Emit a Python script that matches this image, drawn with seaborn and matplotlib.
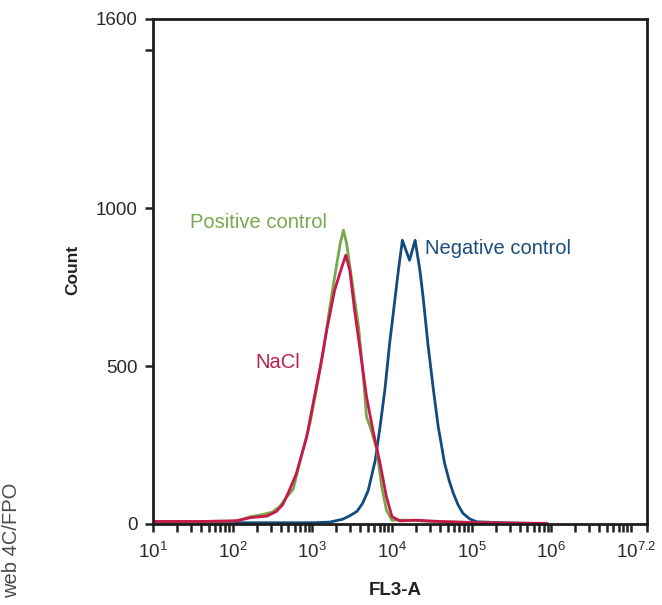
import numpy as np
import pandas as pd
import matplotlib
matplotlib.use("Agg")
import matplotlib.pyplot as plt
import matplotlib.ticker as mticker
import matplotlib.transforms as mtransforms
import seaborn as sns

# FL3-A values stored as log10 exponents, counts
neg_log = [1.0, 2.0, 3.0, 3.22, 3.38, 3.47, 3.56, 3.63, 3.70, 3.79, 3.85, 3.91, 3.97,
           4.04, 4.08, 4.13, 4.22, 4.29, 4.35, 4.39, 4.45, 4.52, 4.58, 4.66, 4.72,
           4.77, 4.83, 4.89, 4.97, 5.06, 5.5, 5.95]
neg_count = [4, 4, 4, 6, 15, 26, 40, 65, 105, 202, 308, 424, 571,
             719, 803, 898, 835, 898, 803, 719, 571, 424, 308, 192, 135,
             97, 60, 34, 17, 7, 3, 1]

pos_log = [1.0, 1.6, 2.0, 2.1, 2.22, 2.38, 2.5, 2.59, 2.68, 2.76, 2.84, 2.97, 3.05, 3.14,
           3.22, 3.28, 3.35, 3.39, 3.43, 3.49, 3.58, 3.64, 3.68, 3.74, 3.81, 3.87, 3.93,
           4.0, 4.2, 4.5, 4.9, 5.4, 5.95]
pos_count = [8, 8, 9, 13, 23, 30, 38, 55, 86, 110, 193, 319, 424, 550,
             687, 782, 888, 930, 888, 782, 624, 466, 339, 297, 234, 118, 44,
             12, 12, 8, 5, 3, 1]

nacl_log = [1.0, 1.6, 2.05, 2.22, 2.43, 2.55, 2.63, 2.70, 2.80, 2.93, 3.01, 3.10, 3.18,
            3.28, 3.37, 3.42, 3.47, 3.53, 3.60, 3.68, 3.76, 3.85, 3.93, 4.0, 4.1, 4.3,
            4.6, 5.0, 5.5, 5.94]
nacl_count = [8, 8, 10, 20, 25, 40, 62, 100, 160, 276, 382, 497, 613,
              740, 813, 851, 803, 677, 550, 403, 297, 192, 86, 23, 10, 12,
              8, 5, 3, 2]

groups = ["Negative control", "Positive control", "NaCl"]
colors = ["#114b80", "#74a84a", "#c8184b"]
xtick_exp = [1, 2, 3, 4, 5, 6, 7.2]
xtick_labels = [r"$10^{1}$", r"$10^{2}$", r"$10^{3}$", r"$10^{4}$",
                r"$10^{5}$", r"$10^{6}$", r"$10^{7.2}$"]

df = pd.concat([
    pd.DataFrame({"FL3-A": 10 ** np.array(lg), "Count": ct, "sample": name})
    for name, lg, ct in zip(groups, [neg_log, pos_log, nacl_log],
                            [neg_count, pos_count, nacl_count])
])

sns.set_theme(style="white")
plt.rcParams["font.family"] = ["Liberation Sans", "DejaVu Sans"]
plt.rcParams["mathtext.fontset"] = "custom"
plt.rcParams["mathtext.rm"] = "Liberation Sans"
plt.rcParams["mathtext.it"] = "Liberation Sans"

fig = plt.figure(figsize=(6.62, 6.05), dpi=100)
ax = fig.add_axes([0.2311, 0.1339, 0.7462, 0.8355])

sns.lineplot(data=df, x="FL3-A", y="Count", hue="sample", hue_order=groups,
             palette=colors, estimator=None, sort=False, linewidth=2.0,
             legend=False, ax=ax)

ax.set_xscale("log")
ax.set_xlim(10, 10 ** 7.2)
ax.set_ylim(0, 1600)

ax.set_xticks([10 ** e for e in xtick_exp])
ax.set_xticklabels(xtick_labels)
ax.xaxis.set_minor_locator(mticker.LogLocator(base=10, subs=np.arange(2, 11), numticks=20))
ax.xaxis.set_minor_formatter(mticker.NullFormatter())
ax.set_yticks([0, 500, 1000, 1600])
ax.set_yticks([1500], minor=True)

ax.tick_params(axis="both", which="both", direction="out", length=6, width=1.8,
               color="#222222", labelsize=13.5, labelcolor="#2a2a2a")
ax.tick_params(axis="x", which="both", pad=7, bottom=True)
ax.tick_params(axis="y", which="both", pad=5, left=True)

# last label sits a bit to the left so it stays inside the figure
last = ax.get_xticklabels()[-1]
last.set_transform(last.get_transform() +
                   mtransforms.ScaledTranslation(-11 / 100, 0, fig.dpi_scale_trans))

for sp in ax.spines.values():
    sp.set_linewidth(2.0)
    sp.set_color("#1e1e1e")

ax.set_xlabel("FL3-A", fontsize=13.5, fontweight="bold", color="#222222")
ax.set_ylabel("Count", fontsize=12.5, fontweight="bold", color="#222222")
ax.xaxis.set_label_coords(0.49, -0.114)
ax.yaxis.set_label_coords(-0.148, 0.502)

ax.text(10 ** 1.46, 955, "Positive control", color="#78a94e", fontsize=14.5, va="center")
ax.text(10 ** 2.28, 512, "NaCl", color="#b8204f", fontsize=14.5, va="center")
ax.text(10 ** 4.41, 873, "Negative control", color="#1b4e7f", fontsize=14.5, va="center")

fig.text(12 / 662, 1 - 540 / 605, "web 4C/FPO", rotation=90, fontsize=14.5,
         color="#4a4a4a", ha="center", va="center")

fig.savefig("out.png", dpi=100)
